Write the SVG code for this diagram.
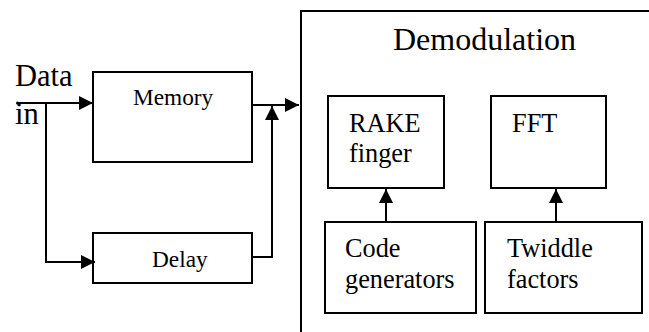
<svg xmlns="http://www.w3.org/2000/svg" width="649" height="332" viewBox="0 0 649 332">
  <style>
    .box { fill: #fff; stroke: #000; stroke-width: 2; }
    .wire { fill: none; stroke: #000; stroke-width: 2; }
    text { font-family: "Liberation Serif", "Times New Roman", serif; fill: #000; }
    .xl { font-size: 32px; }
    .lg { font-size: 30.5px; }
    .md { font-size: 26.3px; }
    .sm { font-size: 23.3px; }
  </style>
  <defs>
    <marker id="head" markerUnits="userSpaceOnUse" markerWidth="14" markerHeight="14" refX="14" refY="7" orient="auto">
      <path d="M0,0 L14,7 L0,14 z" fill="#000"/>
    </marker>
  </defs>
  <rect width="649" height="332" fill="#fff"/>

  <!-- input label -->
  <g id="data-in">
    <text class="lg" x="15" y="86">Data</text>
    <text class="lg" x="15" y="124">in</text>
  </g>

  <g id="memory">
    <rect class="box" x="93" y="72" width="159" height="90"/>
    <text class="sm" x="133" y="105">Memory</text>
  </g>

  <g id="delay">
    <rect class="box" x="93" y="233" width="159" height="50"/>
    <text class="sm" x="152" y="267">Delay</text>
  </g>

  <!-- demodulation block, open toward the right and bottom edges -->
  <g id="demodulation">
    <path class="wire" d="M301,333 V11 H650"/>
    <text class="xl" x="393" y="50">Demodulation</text>
  </g>

  <g id="rake">
    <rect class="box" x="328" y="96" width="116" height="92"/>
    <text class="md" x="349" y="132">RAKE</text>
    <text class="md" x="349" y="162">finger</text>
  </g>

  <g id="fft">
    <rect class="box" x="491" y="96" width="115" height="92"/>
    <text class="md" x="512" y="132">FFT</text>
  </g>

  <g id="code-gen">
    <rect class="box" x="325" y="222" width="151" height="91"/>
    <text class="md" x="345" y="257">Code</text>
    <text class="md" x="345" y="288">generators</text>
  </g>

  <g id="twiddle">
    <rect class="box" x="485" y="222" width="157" height="91"/>
    <text class="md" x="507" y="257">Twiddle</text>
    <text class="md" x="507" y="288">factors</text>
  </g>

  <g id="connectors">
    <path class="wire" d="M17,103 H93" marker-end="url(#head)"/>
    <circle cx="17.5" cy="103" r="1.5" fill="#000"/>
    <path class="wire" d="M46,103 V262 H95" marker-end="url(#head)"/>
    <path class="wire" d="M252,105 H299" marker-end="url(#head)"/>
    <path class="wire" d="M252,257 H272 V106" marker-end="url(#head)"/>
    <path class="wire" d="M386,222 V189" marker-end="url(#head)"/>
    <path class="wire" d="M556,222 V189" marker-end="url(#head)"/>
  </g>
</svg>
